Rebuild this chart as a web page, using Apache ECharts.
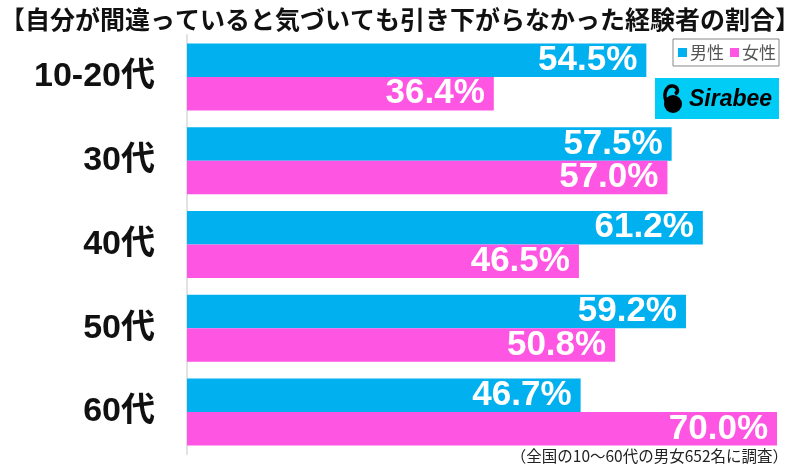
<!DOCTYPE html>
<html><head><meta charset="utf-8">
<script src="https://cdn.jsdelivr.net/npm/echarts@6/dist/echarts.min.js"></script>
<style>html,body{margin:0;padding:0;background:#fff}#c{width:800px;height:466px}</style>
</head><body><div id="c"></div>
<script>
const categories = ['10-20代', '30代', '40代', '50代', '60代'];
const maleValues = [54.5, 57.5, 61.2, 59.2, 46.7];
const femaleValues = [36.4, 57.0, 46.5, 50.8, 70.0];
const seriesNames = ['男性', '女性'];
const titleText = '【自分が間違っていると気づいても引き下がらなかった経験者の割合】';
const noteText = '（全国の10～60代の男女652名に調査）';

const chart = echarts.init(document.getElementById('c'));
const labelStyle = {
  show: true, position: 'insideRight', distance: 9,
  formatter: p => p.value.toFixed(1) + '%',
  color: '#fff', fontSize: 35, fontWeight: 'bold',
  fontFamily: '"Liberation Sans", Arial, sans-serif'
};
chart.setOption({
  animation: false,
  title: {
    text: titleText, left: 'center', top: 2,
    textStyle: { fontSize: 25, fontWeight: 'bold', color: '#111', fontFamily: '"Noto Sans CJK JP", sans-serif' }
  },
  legend: {
    data: seriesNames, right: 21, top: 39, orient: 'horizontal',
    itemWidth: 9, itemHeight: 9, itemGap: 6, icon: 'rect',
    borderColor: '#888', borderWidth: 1, padding: [5, 3, 5, 5],
    textStyle: { fontSize: 17, color: '#555', fontFamily: '"Noto Sans CJK JP", sans-serif', padding: [0, 0, 0, -2] }
  },
  grid: { left: 187, right: 23, top: 35, bottom: 12, containLabel: false },
  xAxis: { type: 'value', min: 0, max: 70, show: false },
  yAxis: {
    type: 'category', data: categories, inverse: true,
    axisLine: { show: true, lineStyle: { color: '#e2e2e2', width: 2 } },
    axisTick: { show: false },
    axisLabel: {
      margin: 32, fontSize: 34, fontWeight: 'bold', color: '#111',
      fontFamily: '"Liberation Sans", "Noto Sans CJK JP", sans-serif'
    }
  },
  series: [
    { name: seriesNames[0], type: 'bar', data: maleValues, barGap: '0%', barCategoryGap: '20%',
      itemStyle: { color: '#00B0EF' }, label: labelStyle },
    { name: seriesNames[1], type: 'bar', data: femaleValues,
      itemStyle: { color: '#FF55E3' }, label: labelStyle }
  ],
  graphic: [
    { type: 'rect', shape: { x: 655, y: 78, width: 124, height: 41 }, style: { fill: '#00CCF5' } },
    { type: 'circle', shape: { cx: 673, cy: 104, r: 9 }, style: { fill: '#000' } },
    { type: 'bezierCurve', shape: { x1: 666, y1: 101, cpx1: 663, cpy1: 93, cpx2: 667, cpy2: 85, x2: 673, y2: 86 }, style: { fill: 'none', stroke: '#000', lineWidth: 3.5 } },
    { type: 'bezierCurve', shape: { x1: 673, y1: 86, cpx1: 678, cpy1: 87, cpx2: 679, cpy2: 92, x2: 675, y2: 94 }, style: { fill: 'none', stroke: '#000', lineWidth: 3.5 } },
    { type: 'text', left: 689, top: 88, style: { text: 'Sirabee', fontSize: 23, fontWeight: 'bold', fontStyle: 'italic', fill: '#000', fontFamily: '"Liberation Sans", sans-serif' } },
    { type: 'text', right: 12, top: 448, style: { text: noteText, fontSize: 15.5, fill: '#222', fontFamily: '"Noto Sans CJK JP", sans-serif' } }
  ]
});
</script></body></html>
